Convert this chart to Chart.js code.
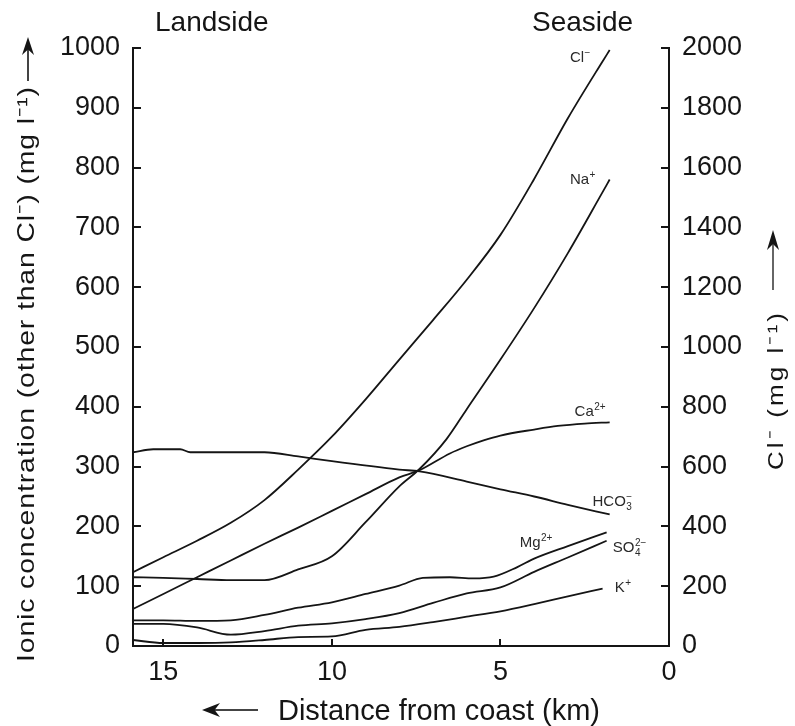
<!DOCTYPE html>
<html>
<head>
<meta charset="utf-8">
<script src="https://cdn.jsdelivr.net/npm/chart.js@4.4.1/dist/chart.umd.min.js"></script>
<style>
  body { margin: 0; background: #fff; }
  #wrap { width: 795px; height: 726px; }
</style>
</head>
<body>
<div id="wrap"><canvas id="ionChart" width="795" height="726"></canvas></div>
<script>
// values: distance from coast (km) -> concentration (mg/l)
const clKm = [15.9, 15, 14, 13, 12, 11, 10, 9, 8, 7, 6, 5, 4, 3, 2, 1.76];
const clVals = [247, 297, 352, 412, 488, 590, 700, 825, 958, 1090, 1225, 1375, 1562, 1765, 1950, 1993];

const naKm = [15.9, 15, 14, 13, 12, 11, 10, 9, 8, 7.4, 6.6, 6, 5, 4, 3, 2, 1.76];
const naVals = [115, 114, 112, 110, 110, 128, 150, 207, 267, 296, 346, 396, 479, 565, 657, 756, 780];

const caKm = [15.9, 15, 14, 13, 12, 11, 10, 9, 8, 7.4, 6.5, 6, 5.5, 5, 4, 3.3, 2.5, 1.76];
const caVals = [62, 87, 115, 143, 171, 198, 226, 254, 282, 294, 322, 334, 344, 352, 362, 368, 372, 374];

const hco3Km = [15.9, 15.3, 14.5, 14.2, 12, 11, 10, 8, 7.4, 6, 5, 4, 3, 1.76];
const hco3Vals = [324, 329, 329, 324, 324, 317, 309, 295, 292, 275, 262, 250, 236, 220];

const mgKm = [15.9, 15, 14, 13, 12, 11, 10, 9, 8, 7.3, 6.5, 5.8, 5.2, 4.5, 4, 3, 1.85];
const mgVals = [43, 43, 42, 43, 52, 64, 73, 87, 101, 114, 115, 113, 116, 132, 146, 167, 190];

const so4Km = [15.9, 15, 14, 13, 12, 11, 10, 9, 8, 7, 6, 5, 4, 3, 1.85];
const so4Vals = [37, 37, 31, 19, 25, 34, 38, 45, 55, 72, 88, 98, 124, 148, 176];

const kKm = [15.9, 15, 14, 13, 12, 11, 10, 9, 8, 7, 6, 5, 4, 3, 1.97];
const kVals = [10, 5, 5, 6, 10, 15, 16, 27, 32, 40, 49, 58, 70, 83, 96];

const xTicks = [0, 5, 10, 15];
const yTicks = [0, 100, 200, 300, 400, 500, 600, 700, 800, 900, 1000];
const y2Ticks = [0, 200, 400, 600, 800, 1000, 1200, 1400, 1600, 1800, 2000];

const FONT = '"Liberation Sans", Arial, Helvetica, sans-serif';
const INK = "#151515";

function pts(km, vals) {
  return km.map((k, i) => ({ x: k, y: vals[i] }));
}

function series(label, km, vals, axis) {
  return {
    label: label,
    data: pts(km, vals),
    yAxisID: axis,
    borderColor: INK,
    borderWidth: 1.8,
    pointRadius: 0,
    fill: false,
    cubicInterpolationMode: "monotone",
  };
}

// curve labels, anchored in data units (km, left-axis mg/l)
const curveLabels = [
  { base: "Cl", sub: "", sup: "\u2212", at: [2.94, 977] },
  { base: "Na", sub: "", sup: "+", at: [2.94, 773] },
  { base: "Ca", sub: "", sup: "2+", at: [2.8, 384] },
  { base: "HCO", sub: "3", sup: "\u2212", at: [2.27, 234] },
  { base: "Mg", sub: "", sup: "2+", at: [4.43, 165] },
  { base: "SO", sub: "4", sup: "2\u2212", at: [1.67, 157] },
  { base: "K", sub: "", sup: "+", at: [1.61, 90] },
];

function drawChem(ctx, x, y, lab) {
  ctx.fillStyle = "#2a2a2a";
  ctx.textAlign = "left";
  ctx.textBaseline = "alphabetic";
  ctx.font = "15px " + FONT;
  ctx.fillText(lab.base, x, y);
  const w = ctx.measureText(lab.base).width + 0.5;
  ctx.font = "10px " + FONT;
  if (lab.sub) ctx.fillText(lab.sub, x + w, y + 4);
  if (lab.sup) ctx.fillText(lab.sup, x + w, y - 6);
}

// text stretched by `stretch` and spread out to fill `target` px
function spacedText(ctx, text, x, y, target, stretch) {
  stretch = stretch || 1;
  const chars = Array.from(text);
  const widths = chars.map((c) => ctx.measureText(c).width);
  const natural = widths.reduce((a, b) => a + b, 0) * stretch;
  const gap = chars.length > 1 ? (target - natural) / (chars.length - 1) : 0;
  let cx = x;
  chars.forEach((c, i) => {
    ctx.save();
    ctx.translate(cx, y);
    ctx.scale(stretch, 1);
    ctx.fillText(c, 0, 0);
    ctx.restore();
    cx += widths[i] * stretch + gap;
  });
}

function arrow(ctx, x1, y1, x2, y2, headLen, half, color) {
  const len = Math.hypot(x2 - x1, y2 - y1);
  const dx = (x2 - x1) / len, dy = (y2 - y1) / len;
  ctx.strokeStyle = color;
  ctx.fillStyle = INK;
  ctx.lineWidth = 2;
  ctx.beginPath();
  ctx.moveTo(x1, y1);
  ctx.lineTo(x2 - dx * headLen * 0.6, y2 - dy * headLen * 0.6);
  ctx.stroke();
  const bx = x2 - dx * headLen, by = y2 - dy * headLen;
  const nx = x2 - dx * headLen * 0.7, ny = y2 - dy * headLen * 0.7;
  ctx.beginPath();
  ctx.moveTo(x2, y2);
  ctx.lineTo(bx - dy * half, by + dx * half);
  ctx.lineTo(nx, ny);
  ctx.lineTo(bx + dy * half, by - dx * half);
  ctx.closePath();
  ctx.fill();
}

const decorations = {
  id: "decorations",
  afterDraw(chart) {
    const ctx = chart.ctx;
    const area = chart.chartArea;
    const sx = chart.scales.x, sy = chart.scales.y, sy2 = chart.scales.y2;
    ctx.save();

    // inward tick marks
    ctx.strokeStyle = INK;
    ctx.lineWidth = 2;
    ctx.beginPath();
    yTicks.forEach((v) => {
      const p = Math.round(sy.getPixelForValue(v));
      ctx.moveTo(area.left, p);
      ctx.lineTo(area.left + 8, p);
    });
    y2Ticks.forEach((v) => {
      const p = Math.round(sy2.getPixelForValue(v));
      ctx.moveTo(area.right, p);
      ctx.lineTo(area.right - 8, p);
    });
    xTicks.filter((v) => v > 0).forEach((v) => {
      const p = Math.round(sx.getPixelForValue(v));
      ctx.moveTo(p, area.bottom);
      ctx.lineTo(p, area.bottom - 7);
    });
    ctx.stroke();

    // curve labels
    curveLabels.forEach((lab) => {
      drawChem(ctx, sx.getPixelForValue(lab.at[0]), sy.getPixelForValue(lab.at[1]), lab);
    });

    ctx.fillStyle = INK;
    ctx.textAlign = "left";
    ctx.textBaseline = "alphabetic";

    // side headings
    ctx.font = "28px " + FONT;
    ctx.fillText("Landside", 155, 31);
    ctx.fillText("Seaside", 532, 31);

    // bottom title
    ctx.font = "29px " + FONT;
    spacedText(ctx, "Distance from coast (km)", 278, 720, 322);
    arrow(ctx, 258, 710, 202, 710, 18, 7, "#444");

    // left title
    ctx.save();
    ctx.translate(34, 662);
    ctx.rotate(-Math.PI / 2);
    ctx.fillStyle = INK;
    ctx.font = "24px " + FONT;
    spacedText(ctx, "Ionic concentration (other than Cl\u207B) (mg l\u207B\u00B9)", 0, 0, 575, 1.18);
    ctx.restore();
    arrow(ctx, 28, 81, 28, 37, 18, 6, "#444");

    // right title
    ctx.save();
    ctx.translate(783, 470);
    ctx.rotate(-Math.PI / 2);
    ctx.fillStyle = INK;
    ctx.font = "22px " + FONT;
    spacedText(ctx, "Cl\u207B (mg l\u207B\u00B9)", 0, 0, 157, 1.18);
    ctx.restore();
    arrow(ctx, 773, 290, 773, 230, 20, 6, "#666");

    ctx.restore();
  },
};

const tickFont = { family: FONT, size: 27 };
const plainLabel = (v) => String(v);

new Chart(document.getElementById("ionChart"), {
  type: "line",
  data: {
    datasets: [
      series("Cl\u207B", clKm, clVals, "y2"),
      series("Na\u207A", naKm, naVals, "y"),
      series("Ca\u00B2\u207A", caKm, caVals, "y"),
      series("HCO\u2083\u207B", hco3Km, hco3Vals, "y"),
      series("Mg\u00B2\u207A", mgKm, mgVals, "y"),
      series("SO\u2084\u00B2\u207B", so4Km, so4Vals, "y"),
      series("K\u207A", kKm, kVals, "y"),
    ],
  },
  options: {
    responsive: false,
    animation: false,
    layout: { padding: { top: 48, left: 0, right: 0, bottom: 0 } },
    plugins: { legend: { display: false }, tooltip: { enabled: false } },
    scales: {
      x: {
        type: "linear",
        reverse: true,
        min: 0,
        max: 15.9,
        afterBuildTicks: (s) => { s.ticks = xTicks.map((v) => ({ value: v })); },
        afterFit: (s) => { s.height = 80; },
        grid: { display: false, drawTicks: false },
        border: { display: true, color: INK, width: 2 },
        ticks: { font: tickFont, color: INK, padding: 10, maxRotation: 0, callback: plainLabel },
      },
      y: {
        position: "left",
        min: 0,
        max: 1000,
        afterBuildTicks: (s) => { s.ticks = yTicks.map((v) => ({ value: v })); },
        afterFit: (s) => { s.width = 133; },
        grid: { display: false, drawTicks: false },
        border: { display: true, color: INK, width: 2 },
        ticks: { font: tickFont, color: INK, padding: 13, callback: plainLabel },
      },
      y2: {
        position: "right",
        min: 0,
        max: 2000,
        afterBuildTicks: (s) => { s.ticks = y2Ticks.map((v) => ({ value: v })); },
        afterFit: (s) => { s.width = 126; },
        grid: { display: false, drawTicks: false },
        border: { display: true, color: INK, width: 2 },
        ticks: { font: tickFont, color: INK, padding: 13, callback: plainLabel },
      },
    },
  },
  plugins: [decorations],
});
</script>
</body>
</html>
